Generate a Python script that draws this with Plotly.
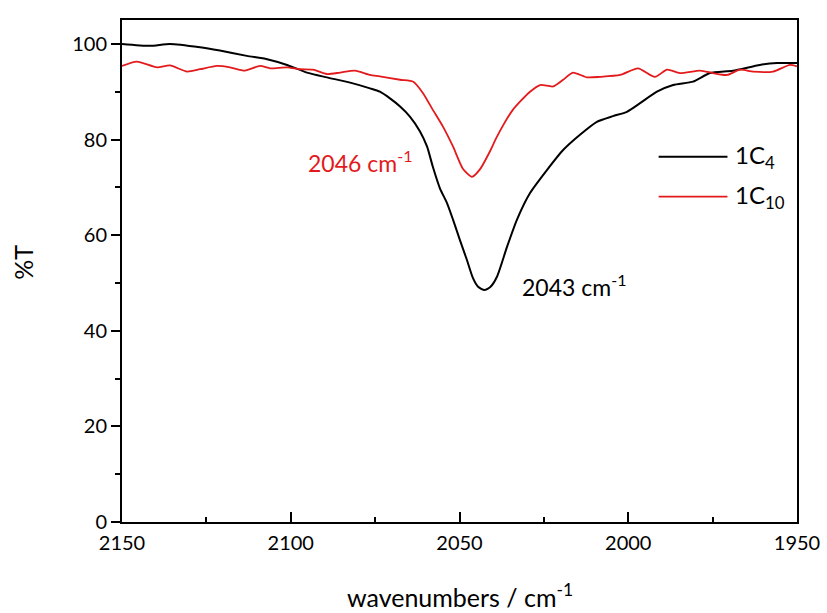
import plotly.graph_objects as go

# ---- data ----
wn_1c4 = [2150.0, 2141.7, 2135.8, 2126.9, 2121.0, 2113.0, 2107.0, 2101.1, 2095.2, 2089.3,
          2082.4, 2076.5, 2073.6, 2070.6, 2067.6, 2064.7, 2061.7, 2059.6, 2057.9, 2055.8,
          2053.7, 2051.9, 2049.9, 2047.8, 2046.0, 2044.5, 2042.6, 2040.8, 2038.9, 2035.9,
          2033.0, 2029.1, 2024.1, 2019.3, 2014.3, 2009.3, 2004.5, 2000.4, 1996.5, 1991.5,
          1986.7, 1980.8, 1975.8, 1969.0, 1961.0, 1955.9, 1950.0]
t_1c4 = [100.0, 99.6, 100.0, 99.3, 98.6, 97.5, 96.8, 95.6, 94.0, 93.0,
         91.9, 90.7, 90.0, 88.6, 86.9, 84.8, 81.7, 78.5, 74.3, 69.8,
         66.7, 63.2, 59.0, 54.8, 51.0, 49.2, 48.5, 49.2, 51.3, 57.6,
         63.2, 68.8, 73.6, 77.8, 81.0, 83.7, 84.9, 85.8, 87.6, 90.0,
         91.4, 92.1, 93.9, 94.4, 95.6, 96.0, 96.0]

wn_1c10 = [2150.0, 2145.6, 2139.6, 2135.8, 2130.7, 2126.9, 2121.9, 2118.0, 2113.6, 2109.1,
           2106.1, 2101.1, 2097.3, 2093.4, 2089.3, 2085.4, 2081.0, 2076.5, 2073.6, 2067.6,
           2063.7, 2060.8, 2057.9, 2054.9, 2051.9, 2049.0, 2046.3, 2043.9, 2041.0, 2038.9,
           2034.2, 2029.1, 2026.1, 2022.3, 2019.3, 2016.4, 2012.2, 2008.4, 2002.4, 1997.1,
           1992.1, 1988.5, 1984.7, 1978.7, 1974.9, 1970.7, 1966.9, 1963.0, 1957.1, 1952.1,
           1950.0]
t_1c10 = [95.4, 96.3, 95.1, 95.5, 94.2, 94.7, 95.4, 95.1, 94.4, 95.4,
          94.9, 95.1, 94.7, 94.6, 93.7, 94.0, 94.4, 93.5, 93.2, 92.5,
          92.1, 89.7, 86.2, 82.7, 78.5, 73.9, 72.2, 73.8, 77.5, 80.6,
          86.2, 90.0, 91.4, 91.1, 92.5, 94.0, 93.0, 93.1, 93.5, 94.9,
          93.1, 94.6, 93.9, 94.4, 93.9, 93.5, 94.6, 94.2, 94.2, 95.6,
          95.3]

series_names = ["1C<sub>4</sub>", "1C<sub>10</sub>"]
series_colors = ["#000000", "#e31a1c"]
x_ticks = [2150, 2100, 2050, 2000, 1950]
y_ticks = [0, 20, 40, 60, 80, 100]
peak_text = ["2046 cm<sup>-1</sup>", "2043 cm<sup>-1</sup>"]
x_title = "wavenumbers / cm<sup>-1</sup>"
y_title = "%T"

FONT = "Lato"

fig = go.Figure()
fig.add_trace(go.Scatter(x=wn_1c4, y=t_1c4, mode="lines", name=series_names[0],
                         line=dict(color=series_colors[0], width=2, shape="spline", smoothing=0.6)))
fig.add_trace(go.Scatter(x=wn_1c10, y=t_1c10, mode="lines", name=series_names[1],
                         line=dict(color=series_colors[1], width=1.8, shape="spline", smoothing=0.6)))

# peak annotations
fig.add_annotation(x=2079.5, y=75.3, xref="x", yref="y", text=peak_text[0], showarrow=False,
                   font=dict(family=FONT, size=23, color=series_colors[1]), xanchor="center", yanchor="middle")
fig.add_annotation(x=2016.0, y=49.4, xref="x", yref="y", text=peak_text[1], showarrow=False,
                   font=dict(family=FONT, size=23, color=series_colors[0]), xanchor="center", yanchor="middle")

# manual legend (long line samples, as in the reference)
leg_y = [0.7275, 0.648]
for i in range(2):
    fig.add_shape(type="line", xref="paper", yref="paper", x0=0.795, x1=0.897, y0=leg_y[i], y1=leg_y[i],
                  line=dict(color=series_colors[i], width=2 if i == 0 else 1.8))
    fig.add_annotation(x=0.905, y=leg_y[i], xref="paper", yref="paper", text=series_names[i],
                       showarrow=False, xanchor="left", yanchor="middle",
                       font=dict(family=FONT, size=24, color="#000000"))

# axis titles (placed as annotations so the plot box stays fixed)
fig.add_annotation(x=0.5, y=-0.147, xref="paper", yref="paper", text=x_title, showarrow=False,
                   xanchor="center", yanchor="middle", font=dict(family=FONT, size=25, color="black"))
fig.add_annotation(x=-0.147, y=0.518, xref="paper", yref="paper", text=y_title, showarrow=False,
                   textangle=-90, xanchor="center", yanchor="middle",
                   font=dict(family=FONT, size=25, color="black"))

fig.update_layout(
    width=827, height=613,
    margin=dict(l=122, r=30, t=20, b=91),
    paper_bgcolor="white", plot_bgcolor="white",
    showlegend=False,
    font=dict(family=FONT, color="black"),
)
fig.update_xaxes(
    range=[2150, 1950], tickvals=x_ticks, ticks="inside", ticklen=10, tickwidth=2, tickcolor="black",
    minor=dict(dtick=25, tick0=1950, ticks="inside", ticklen=5, tickwidth=2, tickcolor="black"),
    showline=True, linewidth=2, linecolor="black", mirror=True, showgrid=False, zeroline=False,
    tickfont=dict(family=FONT, size=20), ticklabelstandoff=2, automargin=False,
)
fig.update_yaxes(
    range=[0, 105], tickvals=y_ticks, ticks="outside", ticklen=9, tickwidth=2, tickcolor="black",
    minor=dict(dtick=10, tick0=0, ticks="outside", ticklen=5, tickwidth=2, tickcolor="black"),
    showline=True, linewidth=2, linecolor="black", mirror=True, showgrid=False, zeroline=False,
    tickfont=dict(family=FONT, size=20), automargin=False,
)

fig.write_html("out.html")
